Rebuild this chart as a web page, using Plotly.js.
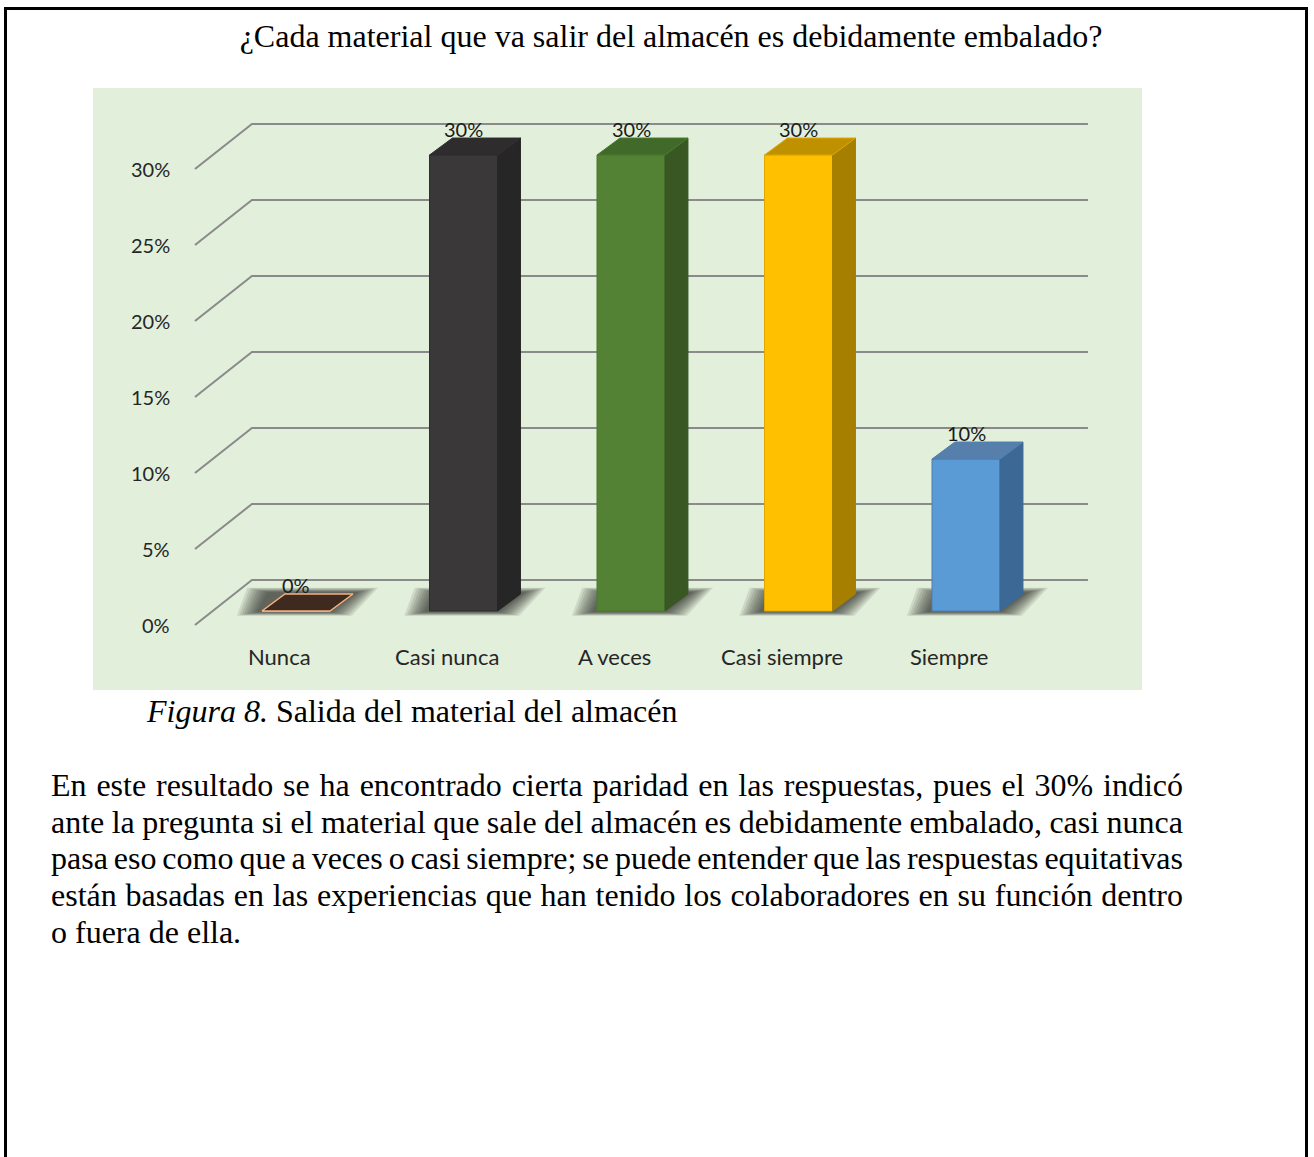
<!DOCTYPE html>
<html><head><meta charset="utf-8">
<script src="https://cdn.plot.ly/plotly-3.0.1.min.js"></script>
<style>
body{margin:0;width:1314px;height:1157px;overflow:hidden;background:#fff;position:relative;font-family:"Liberation Serif","Times New Roman",serif;color:#000;}
#frame{position:absolute;left:4px;top:7px;width:1298px;height:1300px;border:3px solid #000;border-bottom:none;z-index:2;pointer-events:none;}
#chart{position:absolute;left:0;top:0;width:1314px;height:700px;z-index:1;}
#caption{position:absolute;left:147px;top:693px;font-size:32px;line-height:36px;white-space:nowrap;}
#para{position:absolute;left:51px;top:767px;width:1132px;font-size:32px;line-height:36.7px;}
#para .l{text-align:justify;text-align-last:justify;white-space:nowrap;}
#para .l2{word-spacing:-1px;}
#para .l3{word-spacing:-3px;}
</style></head>
<body>
<div id="frame"></div>
<div id="chart"></div>
<div id="caption"><i>Figura 8.</i> Salida del material del almacén</div>
<div id="para">
<div class="l">En este resultado se ha encontrado cierta paridad en las respuestas, pues el 30% indicó</div>
<div class="l l2">ante la pregunta si el material que sale del almacén es debidamente embalado, casi nunca</div>
<div class="l l3">pasa eso como que a veces o casi siempre; se puede entender que las respuestas equitativas</div>
<div class="l">están basadas en las experiencias que han tenido los colaboradores en su función dentro</div>
<div>o fuera de ella.</div>
</div>
<script>
// ---- data ----
var chartTitle = '¿Cada material que va salir del almacén es debidamente embalado?';
var categories = ['Nunca', 'Casi nunca', 'A veces', 'Casi siempre', 'Siempre'];
var values = [0, 30, 30, 30, 10];
var valueLabels = ['0%', '30%', '30%', '30%', '10%'];
var yTickVals = [0, 5, 10, 15, 20, 25, 30];
var yTickText = ['0%', '5%', '10%', '15%', '20%', '25%', '30%'];

// ---- styles / geometry ----
var frontColors = ['#3f2a1f', '#3a3839', '#548235', '#FFC000', '#5B9BD5'];
var sideColors  = ['#3f2a1f', '#272627', '#385723', '#A67E00', '#3B6894'];
var topColors   = ['#3f2a1f', '#2e2c2d', '#416a2a', '#BF9000', '#5680AB'];
var edgeColors  = ['#F4B183', '#2f2d2e', '#4a7a2c', '#E0A800', '#4f7fb0'];
var W = 0.406, DX = 0.137, DY = 1.118;
var FRONT_OFF = -0.921, BACK_OFF = 2.039;
var X_FRONT = -0.603, X_BACK = -0.263, X_END = 4.728;
var FONT = 'Lato, "Open Sans", sans-serif';

var xs = categories.map(function (c, i) { return i; });
var traces = [];

// front faces: bar trace
traces.push({
  type: 'bar', x: xs, y: values, base: 0, width: W,
  marker: { color: frontColors, line: { color: edgeColors, width: 1 } },
  hoverinfo: 'skip', showlegend: false
});

// side + top faces
values.forEach(function (v, i) {
  var l = i - W / 2, r = i + W / 2;
  if (v > 0) {
    traces.push({
      type: 'scatter', mode: 'lines', fill: 'toself', fillcolor: sideColors[i],
      x: [r, r + DX, r + DX, r, r], y: [0, DY, v + DY, v, 0],
      line: { color: sideColors[i], width: 1 }, hoverinfo: 'skip', showlegend: false
    });
  }
  traces.push({
    type: 'scatter', mode: 'lines', fill: 'toself', fillcolor: topColors[i],
    x: [l, l + DX, r + DX, r, l], y: [v, v + DY, v + DY, v, v],
    line: { color: edgeColors[i], width: v > 0 ? 1 : 1.5 }, hoverinfo: 'skip', showlegend: false
  });
});

// shapes: gridlines (below) and soft shadows
var shapes = [];
yTickVals.forEach(function (t) {
  shapes.push({
    type: 'path', layer: 'below', xref: 'x', yref: 'y',
    path: 'M' + X_FRONT + ',' + (t + FRONT_OFF) + ' L' + X_BACK + ',' + (t + BACK_OFF) + ' L' + X_END + ',' + (t + BACK_OFF),
    line: { color: '#8a8a8a', width: 2 }
  });
});
var shadowSteps = [0.13, 0.115, 0.1, 0.085, 0.07, 0.055, 0.04, 0.025, 0.01];
values.forEach(function (v, i) {
  var l = i - W / 2, r = i + W / 2;
  shadowSteps.forEach(function (g) {
    var gy = g * 8;
    var y0 = -0.05 - gy * 0.25, y1 = DY + 0.1 + gy * 0.3;
    shapes.push({
      type: 'path', layer: 'below', xref: 'x', yref: 'y',
      path: 'M' + (l - 0.02 - g) + ',' + y0 + ' L' + (r + g) + ',' + y0 + ' L' + (r + DX + 0.02 + g) + ',' + y1 + ' L' + (l + DX * 0.3 - g) + ',' + y1 + ' Z',
      fillcolor: 'rgba(15,20,15,0.1)', line: { width: 0 }
    });
  });
});

// annotations
var ann = [];
yTickVals.forEach(function (t, k) {
  ann.push({ x: -0.74, y: t + FRONT_OFF, xref: 'x', yref: 'y', text: yTickText[k], showarrow: false,
    xanchor: 'right', yanchor: 'middle', font: { family: FONT, size: 20, color: '#262626' } });
});
categories.forEach(function (c, i) {
  ann.push({ x: i - 0.1, y: -2.96, xref: 'x', yref: 'y', text: c, showarrow: false,
    xanchor: 'center', yanchor: 'middle', font: { family: FONT, size: 22, color: '#262626' } });
});
values.forEach(function (v, i) {
  ann.push({ x: i, y: v + 1.7, xref: 'x', yref: 'y', text: valueLabels[i], showarrow: false,
    xanchor: 'center', yanchor: 'middle', font: { family: FONT, size: 20, color: '#1a1a1a' } });
});

var layout = {
  width: 1314, height: 700,
  margin: { l: 93, r: 172, t: 88, b: 10, pad: 0 },
  paper_bgcolor: 'rgba(0,0,0,0)', plot_bgcolor: '#E2EFDA',
  title: { text: chartTitle, x: 671 / 1314, xanchor: 'center', xref: 'container',
    y: 1 - 36 / 700, yref: 'container', yanchor: 'middle',
    font: { family: '"Liberation Serif", "Times New Roman", serif', size: 32, color: '#000' } },
  xaxis: { range: [-1.2119, 5.0507], visible: false, fixedrange: true },
  yaxis: { range: [-5.197, 34.41], visible: false, fixedrange: true },
  shapes: shapes, annotations: ann, showlegend: false, bargap: 0
};
Plotly.newPlot('chart', traces, layout, { staticPlot: true, displayModeBar: false });
</script>
</body></html>
